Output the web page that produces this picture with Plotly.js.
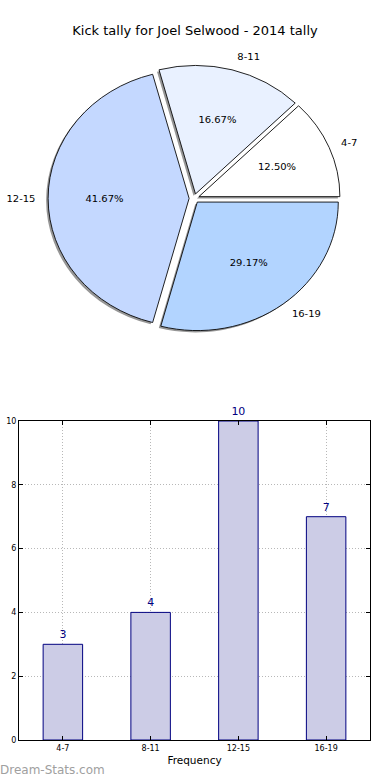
<!DOCTYPE html>
<html>
<head>
<meta charset="utf-8">
<script src="https://cdn.plot.ly/plotly-3.0.1.min.js"></script>
<style>html,body{margin:0;padding:0;background:#fff;}#chart{width:390px;height:780px;}</style>
</head>
<body>
<div id="chart"></div>
<script>
const categories = ["4-7", "8-11", "12-15", "16-19"];
const counts = [3, 4, 10, 7];
const sliceColors = ["#ffffff", "#e9f1ff", "#c4d8ff", "#b2d4ff"];
const titleText = "Kick tally for Joel Selwood - 2014 tally";
const yTickVals = [0, 2, 4, 6, 8, 10];

const FONT = "DejaVu Sans, sans-serif";
const W = 390, H = 780;
// pie geometry (pixels)
const pcx = 194.2, pcy = 198.4, prx = 141, pry = 128.5, pullFrac = 0.036;
const pullPx = pullFrac * prx;
const PCT_DIST = 0.6, LABEL_DIST = 1.07;

function domainFor(radius, dx, dy) {
  const half = radius + pullPx;
  return {
    x: [(pcx + dx - half) / W, (pcx + dx + half) / W],
    y: [(H - pcy - dy - half) / H, (H - pcy - dy + half) / H]
  };
}
const base = {
  type: "pie", labels: categories, values: counts, sort: false,
  direction: "counterclockwise", rotation: 45, showlegend: false
};
const transparent = categories.map(() => "rgba(0,0,0,0)");

const shadow = Object.assign({}, base, {
  pull: categories.map(() => pullFrac), domain: domainFor(prx, -2, 2),
  marker: {colors: categories.map(() => "rgba(80,80,80,0.6)"), line: {width: 0}},
  textinfo: "none", hoverinfo: "skip"
});
const pie = Object.assign({}, base, {
  pull: categories.map(() => pullFrac), domain: domainFor(prx, 0, 0),
  marker: {colors: sliceColors, line: {width: 0.9, color: "#000"}},
  textinfo: "none", hoverinfo: "label+percent"
});

// percentage texts: one transparent ring per slice, sized so that the
// library's inside-text centre lands at PCT_DIST of the drawn radius
const total = counts.reduce((a, b) => a + b, 0);
const pctTraces = counts.map((v, i) => {
  const share = v / total;
  const s = Math.sin(Math.PI * share);
  const rIn = share >= 0.5 ? 0.5 : Math.min(s / (1 + s), 0.5);
  const c = 1 - rIn;
  const R = PCT_DIST * prx / c;
  return Object.assign({}, base, {
    pull: categories.map(() => pullPx / R), domain: domainFor(R, 0, 0),
    marker: {colors: transparent, line: {width: 0}},
    textposition: "inside", insidetextorientation: "horizontal",
    texttemplate: categories.map((_, j) => (j === i ? "%{percent:.2%}" : "")),
    textfont: {family: FONT, size: 10, color: "#000"},
    insidetextfont: {family: FONT, size: 10, color: "#000"},
    hoverinfo: "skip"
  });
});
const RL = LABEL_DIST * prx;
const labelTrace = Object.assign({}, base, {
  pull: categories.map(() => pullPx / RL), domain: domainFor(RL, 0, 0),
  marker: {colors: transparent, line: {width: 0}},
  textposition: "outside", texttemplate: "%{label}",
  textfont: {family: FONT, size: 10, color: "#000"},
  outsidetextfont: {family: FONT, size: 10, color: "#000"},
  hoverinfo: "skip"
});

const bars = {
  type: "bar", x: categories, y: counts, width: 0.45,
  marker: {color: "#ccccE6", line: {color: "#000080", width: 1}},
  text: counts.map(String), textposition: "outside", cliponaxis: false,
  textfont: {family: FONT, size: 11, color: "#000080"},
  xaxis: "x", yaxis: "y", showlegend: false
};

const layout = {
  width: W, height: H, margin: {l: 0, r: 0, t: 0, b: 0},
  paper_bgcolor: "#fff", plot_bgcolor: "#fff",
  font: {family: FONT, color: "#000"},
  title: {text: titleText, font: {family: FONT, size: 13, color: "#000"}, x: 0.5, xanchor: "center", y: (H - 30) / H, yanchor: "middle"},
  xaxis: {
    domain: [19 / W, 370 / W], type: "category", range: [-0.5, 3.5],
    showline: true, linecolor: "#000", linewidth: 1, mirror: "ticks",
    ticks: "inside", ticklen: 4, tickcolor: "#000",
    showgrid: true, gridcolor: "#b8b8b8", griddash: "1px,2px", gridwidth: 1,
    tickfont: {family: FONT, size: 8, color: "#000"},
    title: {text: "Frequency", font: {family: FONT, size: 10.5, color: "#000"}, standoff: 5},
    fixedrange: true
  },
  yaxis: {
    domain: [40 / H, 359 / H], range: [0, 10], tickvals: yTickVals,
    showline: true, linecolor: "#000", linewidth: 1, mirror: "ticks",
    ticks: "inside", ticklen: 4, tickcolor: "#000",
    showgrid: true, gridcolor: "#b8b8b8", griddash: "1px,2px", gridwidth: 1,
    zeroline: false,
    tickfont: {family: FONT, size: 8, color: "#000"},
    fixedrange: true
  },
  annotations: [
    {text: "Dream-Stats.com", xref: "paper", yref: "paper", x: -2 / W, y: 10 / H, xanchor: "left", yanchor: "middle",
     showarrow: false, font: {family: FONT, size: 12, color: "#a0a0a0"}},
    {text: "Occurrences", xref: "paper", yref: "paper", x: 3 / W, y: (H - 580) / H, xanchor: "right", yanchor: "middle",
     textangle: -90, showarrow: false, font: {family: FONT, size: 10.5, color: "#000"}}
  ]
};

Plotly.newPlot("chart", [shadow, pie].concat(pctTraces, [labelTrace, bars]), layout, {staticPlot: true}).then(function (gd) {
  // squash the pie vertically to the reference's elliptical shape
  const k = pry / prx;
  const pl = gd.querySelector(".pielayer");
  if (pl) pl.setAttribute("transform", "translate(0," + pcy + ") scale(1," + k + ") translate(0," + (-pcy) + ")");
});
</script>
</body>
</html>
